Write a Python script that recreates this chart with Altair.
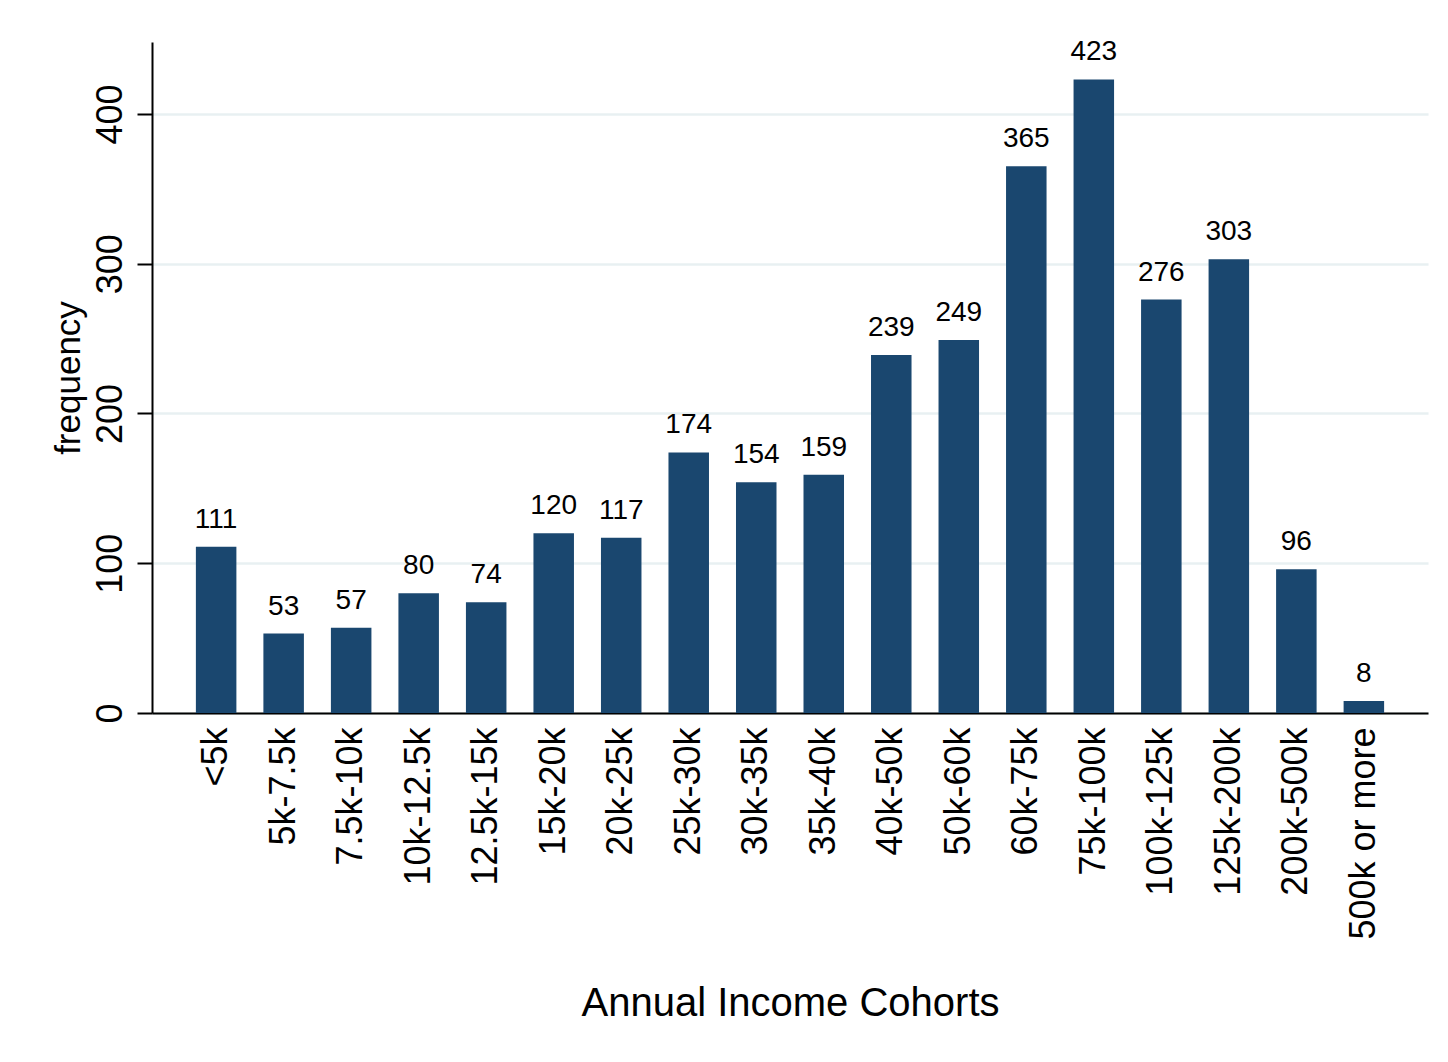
import altair as alt
import pandas as pd

categories = ["<5k", "5k-7.5k", "7.5k-10k", "10k-12.5k", "12.5k-15k", "15k-20k",
              "20k-25k", "25k-30k", "30k-35k", "35k-40k", "40k-50k", "50k-60k",
              "60k-75k", "75k-100k", "100k-125k", "125k-200k", "200k-500k", "500k or more"]
frequency = [111, 53, 57, 80, 74, 120, 117, 174, 154, 159, 239, 249, 365, 423, 276, 303, 96, 8]

df = pd.DataFrame({"cohort": categories, "frequency": frequency})

FONT = "Liberation Sans"
W, H = 1276, 671

xenc = alt.X("cohort:N", sort=categories,
             scale=alt.Scale(paddingInner=0.4, paddingOuter=0.65),
             axis=alt.Axis(title="Annual Income Cohorts", labelAngle=270,
                           labelAlign="right", labelBaseline="middle",
                           labelFontSize=36, labelPadding=14, ticks=False,
                           labelLimit=500, labelOverlap=False,
                           domainColor="black", domainWidth=2,
                           labelColor="black", titleColor="black",
                           titleFontSize=40, titleFontWeight="normal",
                           titleX=W / 2, titleY=302, titleBaseline="alphabetic",
                           titleAlign="center", labelFont=FONT, titleFont=FONT))
yenc = alt.Y("frequency:Q",
             scale=alt.Scale(domain=[0, 448], nice=False, zero=True),
             axis=alt.Axis(title="frequency", values=[0, 100, 200, 300, 400],
                           labelAngle=270, labelAlign="center", labelBaseline="bottom",
                           labelFontSize=36, labelPadding=8,
                           tickSize=15, tickWidth=2, tickColor="black",
                           domainColor="black", domainWidth=2,
                           grid=True, gridColor="#e8f0f2", gridWidth=2.5,
                           labelColor="black", titleColor="black",
                           titleFontSize=35, titleFontWeight="normal",
                           titleAngle=270, titleX=-73, titleY=H / 2,
                           titleBaseline="alphabetic", titleAlign="center",
                           labelFont=FONT, titleFont=FONT))

bars = alt.Chart(df).mark_bar(color="#1a476f").encode(x=xenc, y=yenc)
labels = alt.Chart(df).mark_text(baseline="alphabetic", dy=-19, fontSize=28,
                                 font=FONT, color="black").encode(
    x=alt.X("cohort:N", sort=categories),
    y="frequency:Q",
    text="frequency:Q")

chart = (bars + labels).properties(
    width=W, height=H,
    autosize=alt.AutoSizeParams(type="none"),
    padding={"left": 144, "top": 34, "right": 12, "bottom": 330},
).configure_view(stroke=None).configure_axis(gridCap="butt")

chart.save("out.html", embed_options={"renderer": "svg", "actions": False})
